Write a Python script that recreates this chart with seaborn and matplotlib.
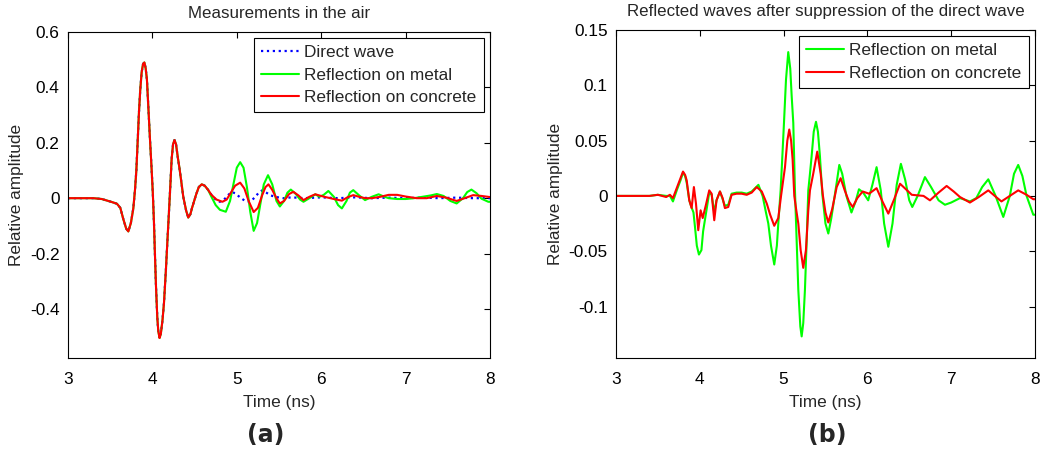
import numpy as np
import pandas as pd
import matplotlib
matplotlib.use('Agg')
import matplotlib.pyplot as plt
from matplotlib.ticker import FuncFormatter
import seaborn as sns

# ---- (a) measurements in the air: part shared by all three traces (up to ~4.6 ns)
t_common = [3.0, 3.3, 3.4, 3.5, 3.58, 3.62, 3.655, 3.69, 3.715, 3.745, 3.774, 3.794, 3.81, 3.825,
            3.841, 3.856, 3.873, 3.89, 3.905, 3.92, 3.935, 3.952, 3.972, 3.99, 4.005, 4.019, 4.03,
            4.043, 4.058, 4.07, 4.085, 4.10, 4.12, 4.137, 4.16, 4.177, 4.193, 4.21, 4.228, 4.245,
            4.262, 4.28, 4.30, 4.32, 4.335, 4.366, 4.40, 4.425, 4.45, 4.47, 4.50, 4.52, 4.55, 4.585]
v_common = [0.0, 0.0, -0.003, -0.012, -0.02, -0.035, -0.075, -0.11, -0.12, -0.09, -0.037, 0.03, 0.10, 0.20,
            0.31, 0.39, 0.455, 0.485, 0.49, 0.47, 0.43, 0.33, 0.21, 0.11, 0.02, -0.09, -0.20,
            -0.32, -0.43, -0.48, -0.505, -0.49, -0.44, -0.38, -0.26, -0.16, -0.07, 0.03, 0.14, 0.195,
            0.21, 0.195, 0.15, 0.11, 0.077, 0.005, -0.045, -0.07, -0.058, -0.035, -0.005, 0.015, 0.04, 0.05]

t_direct_tail = [4.62, 4.66, 4.70, 4.75, 4.80, 4.85, 4.90, 4.94, 4.98, 5.05, 5.10, 5.16, 5.22, 5.26,
                 5.30, 5.35, 5.40, 5.47, 5.55, 5.65, 5.8, 6.0, 6.2, 6.4, 6.6, 6.8, 7.0, 7.2, 7.4, 7.6, 7.8, 8.0]
v_direct_tail = [0.045, 0.03, 0.012, -0.005, -0.013, -0.005, 0.012, 0.022, 0.018, 0.0, -0.01, -0.013, 0.005, 0.02,
                 0.028, 0.02, 0.01, 0.004, 0.0, 0.003, 0.0, 0.003, 0.0, 0.003, 0.0, 0.002, 0.0, 0.002, 0.0, 0.002, 0.0, 0.0]

t_metal_air_tail = [4.62, 4.66, 4.70, 4.75, 4.80, 4.87, 4.92, 4.96, 5.0, 5.04, 5.08, 5.12, 5.16, 5.20, 5.24,
                    5.28, 5.32, 5.37, 5.42, 5.47, 5.51, 5.56, 5.60, 5.64, 5.70, 5.75, 5.79, 5.86, 5.93, 5.98,
                    6.03, 6.085, 6.15, 6.20, 6.245, 6.30, 6.34, 6.38, 6.45, 6.52, 6.60, 6.68, 6.75, 6.8, 6.9,
                    7.0, 7.1, 7.2, 7.3, 7.37, 7.45, 7.53, 7.605, 7.68, 7.73, 7.78, 7.84, 7.9, 7.98, 8.0]
v_metal_air_tail = [0.045, 0.03, 0.005, -0.025, -0.042, -0.049, -0.01, 0.05, 0.11, 0.13, 0.11, 0.04, -0.05, -0.118, -0.09,
                    -0.02, 0.05, 0.083, 0.05, -0.01, -0.03, -0.01, 0.02, 0.031, 0.015, -0.005, -0.013, 0.0, 0.014, 0.005,
                    0.012, 0.026, 0.005, -0.025, -0.037, -0.01, 0.02, 0.029, 0.01, -0.007, 0.005, 0.014, 0.005, 0.0, -0.003,
                    -0.003, 0.0, 0.005, 0.01, 0.015, 0.008, -0.01, -0.019, 0.0, 0.022, 0.031, 0.018, -0.002, -0.013, -0.013]

t_concrete_air_tail = [4.62, 4.66, 4.70, 4.76, 4.83, 4.88, 4.93, 4.98, 5.04, 5.09, 5.14, 5.20, 5.25, 5.30,
                       5.34, 5.375, 5.42, 5.47, 5.51, 5.56, 5.62, 5.67, 5.73, 5.79, 5.86, 5.93, 6.00, 6.065,
                       6.15, 6.245, 6.31, 6.38, 6.45, 6.52, 6.6, 6.7, 6.8, 6.9, 7.0, 7.13, 7.25, 7.37, 7.48,
                       7.605, 7.70, 7.80, 7.90, 8.0]
v_concrete_air_tail = [0.045, 0.03, 0.012, -0.005, -0.013, -0.005, 0.02, 0.045, 0.056, 0.035, -0.01, -0.05, -0.035, 0.01,
                       0.04, 0.05, 0.03, 0.0, -0.019, -0.01, 0.015, 0.023, 0.01, -0.007, 0.005, 0.014, 0.008, 0.003,
                       -0.003, -0.009, 0.003, 0.011, 0.005, 0.0, 0.0, 0.005, 0.012, 0.012, 0.006, 0.0, 0.0, 0.008, 0.002,
                       -0.01, 0.0, 0.011, 0.008, 0.004]

# ---- (b) reflected waves after suppression of the direct wave
t_metal_refl = [3.0, 3.4, 3.5, 3.6, 3.644, 3.68, 3.73, 3.77, 3.80, 3.825, 3.844, 3.875, 3.90, 3.925, 3.943,
                3.965, 3.99, 4.02, 4.04, 4.08, 4.113, 4.142, 4.173, 4.20, 4.241, 4.273, 4.30, 4.34, 4.38,
                4.44, 4.50, 4.56, 4.62, 4.70, 4.75, 4.79, 4.818, 4.85, 4.889, 4.92, 4.937, 4.965, 4.985,
                5.005, 5.029, 5.056, 5.08, 5.097, 5.116, 5.136, 5.156, 5.176, 5.20, 5.216, 5.235, 5.255,
                5.276, 5.295, 5.315, 5.335, 5.36, 5.387, 5.41, 5.434, 5.462, 5.50, 5.534, 5.57, 5.634,
                5.665, 5.70, 5.75, 5.81, 5.86, 5.90, 5.95, 6.01, 6.06, 6.11, 6.16, 6.20, 6.25, 6.30, 6.35,
                6.40, 6.45, 6.50, 6.536, 6.60, 6.687, 6.76, 6.85, 6.926, 7.0, 7.105, 7.224, 7.30, 7.37,
                7.443, 7.53, 7.622, 7.70, 7.75, 7.80, 7.85, 7.90, 7.98, 8.0]
v_metal_refl = [0.0, 0.0, 0.001, 0.0, 0.0, -0.005, 0.006, 0.014, 0.021, 0.018, 0.012, -0.004, -0.01, -0.015, -0.028,
                -0.045, -0.053, -0.049, -0.032, -0.013, 0.003, 0.001, -0.015, -0.004, 0.004, -0.003, -0.009, -0.008, 0.002,
                0.003, 0.003, 0.002, 0.004, 0.01, 0.0, -0.015, -0.025, -0.045, -0.062, -0.045, -0.025, 0.005, 0.035,
                0.066, 0.105, 0.13, 0.115, 0.09, 0.066, 0.005, -0.04, -0.085, -0.118, -0.127, -0.115, -0.085,
                -0.04, 0.005, 0.02, 0.036, 0.058, 0.067, 0.058, 0.036, 0.002, -0.025, -0.034, -0.02, 0.012,
                0.028, 0.02, 0.0, -0.015, -0.005, 0.006, 0.003, -0.004, 0.01, 0.026, 0.005, -0.025, -0.046, -0.025, 0.01,
                0.029, 0.015, -0.004, -0.01, 0.0, 0.017, 0.008, -0.004, -0.008, -0.006, -0.002, -0.005, -0.002, 0.008,
                0.015, 0.0, -0.019, 0.0, 0.02, 0.028, 0.018, 0.0, -0.017, -0.017]

t_concrete_refl = [3.0, 3.4, 3.5, 3.6, 3.644, 3.68, 3.73, 3.77, 3.80, 3.825, 3.844, 3.875, 3.903, 3.93,
                   3.955, 3.982, 4.01, 4.035, 4.074, 4.113, 4.142, 4.173, 4.20, 4.241, 4.273, 4.30, 4.34,
                   4.38, 4.44, 4.50, 4.56, 4.62, 4.68, 4.74, 4.80, 4.84, 4.889, 4.937, 4.97, 5.017, 5.045,
                   5.068, 5.09, 5.108, 5.128, 5.15, 5.176, 5.204, 5.235, 5.267, 5.295, 5.315, 5.354, 5.402,
                   5.443, 5.47, 5.50, 5.534, 5.58, 5.634, 5.681, 5.73, 5.78, 5.825, 5.88, 5.944, 6.02, 6.11,
                   6.18, 6.25, 6.32, 6.39, 6.46, 6.53, 6.67, 6.747, 6.85, 6.946, 7.03, 7.105, 7.224, 7.33,
                   7.443, 7.52, 7.60, 7.70, 7.80, 7.90, 7.98, 8.0]
v_concrete_refl = [0.0, 0.0, 0.001, -0.001, 0.001, -0.002, 0.008, 0.016, 0.022, 0.019, 0.014, -0.004, -0.011, 0.008,
                   -0.007, -0.031, -0.013, -0.02, -0.008, 0.005, 0.002, -0.022, -0.004, 0.004, -0.002, -0.011, -0.01,
                   0.001, 0.002, 0.002, 0.001, 0.003, 0.008, 0.004, -0.007, -0.017, -0.027, -0.02, 0.0, 0.026, 0.05,
                   0.06, 0.05, 0.033, 0.0, -0.012, -0.025, -0.049, -0.065, -0.049, -0.013, 0.005, 0.02, 0.04,
                   0.02, 0.0, -0.015, -0.024, -0.012, 0.008, 0.016, 0.005, -0.005, -0.01, -0.002, 0.004, 0.002, 0.007,
                   -0.005, -0.016, -0.003, 0.011, 0.006, 0.001, 0.0, -0.004, 0.003, 0.009, 0.004, -0.001, -0.006, -0.001,
                   0.005, 0.0, -0.005, 0.0, 0.005, 0.001, -0.003, -0.003]

x_ticks = [3, 4, 5, 6, 7, 8]
y_ticks_a = [-0.4, -0.2, 0, 0.2, 0.4, 0.6]
y_ticks_b = [-0.1, -0.05, 0, 0.05, 0.1, 0.15]

df_a = pd.concat([
    pd.DataFrame({'t': t_common + t_direct_tail, 'v': v_common + v_direct_tail, 'trace': 'Direct wave'}),
    pd.DataFrame({'t': t_common + t_metal_air_tail, 'v': v_common + v_metal_air_tail, 'trace': 'Reflection on metal'}),
    pd.DataFrame({'t': t_common + t_concrete_air_tail, 'v': v_common + v_concrete_air_tail, 'trace': 'Reflection on concrete'}),
])
df_b = pd.concat([
    pd.DataFrame({'t': t_metal_refl, 'v': v_metal_refl, 'trace': 'Reflection on metal'}),
    pd.DataFrame({'t': t_concrete_refl, 'v': v_concrete_refl, 'trace': 'Reflection on concrete'}),
])

sns.set_style('white')
plt.rcParams['font.family'] = ['Liberation Sans', 'DejaVu Sans']
plt.rcParams['axes.unicode_minus'] = False
plt.rcParams['font.size'] = 12.4

colors = {'Direct wave': (0, 0, 1), 'Reflection on metal': (0, 1, 0), 'Reflection on concrete': (1, 0, 0)}

fig = plt.figure(figsize=(10.41, 4.54), dpi=100)
ax1 = fig.add_axes([0.0653, 0.2115, 0.4054, 0.718])
ax2 = fig.add_axes([0.5917, 0.2115, 0.4025, 0.7225])

for name, grp in df_a.groupby('trace', sort=False):
    sns.lineplot(data=grp, x='t', y='v', ax=ax1, color=colors[name], label=name,
                 estimator=None, sort=False, lw=1.5 if name != 'Direct wave' else 1.6,
                 linestyle=':' if name == 'Direct wave' else '-')
for name, grp in df_b.groupby('trace', sort=False):
    sns.lineplot(data=grp, x='t', y='v', ax=ax2, color=colors[name], label=name,
                 estimator=None, sort=False, lw=1.5)

fmt = FuncFormatter(lambda v, p: '%g' % v)
for ax, yt, ylim, title in [(ax1, y_ticks_a, (-0.577, 0.6), 'Measurements in the air'),
                            (ax2, y_ticks_b, (-0.1465, 0.15), 'Reflected waves after suppression of the direct wave')]:
    ax.set_xlim(3, 8)
    ax.set_ylim(*ylim)
    ax.set_xticks(x_ticks)
    ax.set_yticks(yt)
    ax.xaxis.set_major_formatter(fmt)
    ax.yaxis.set_major_formatter(fmt)
    ax.tick_params(direction='in', length=4, width=0.8, top=True, right=True, labelsize=12.4, pad=6, colors='black')
    ax.tick_params(axis='x', pad=10)
    for s in ax.spines.values():
        s.set_visible(True)
        s.set_color('black')
        s.set_linewidth(0.8)
    ax.set_xlabel('Time (ns)', fontsize=12.4, labelpad=6)
    ax.set_ylabel('Relative amplitude', fontsize=12.4, labelpad=4)
    ax.set_title(title, fontsize=12.2, pad=10)
    leg = ax.legend(loc='upper right', fontsize=12.4, frameon=True, fancybox=False, framealpha=1,
                    edgecolor='black', borderaxespad=0.35, borderpad=0.42, labelspacing=0.42,
                    handlelength=2.2, handletextpad=0.3)
    leg.get_frame().set_linewidth(0.8)

fig.text(0.2555, 0.042, '(a)', ha='center', va='center', fontsize=17, fontweight='bold', family='DejaVu Sans')
fig.text(0.7945, 0.042, '(b)', ha='center', va='center', fontsize=17, fontweight='bold', family='DejaVu Sans')

fig.savefig('out.png', dpi=100)
